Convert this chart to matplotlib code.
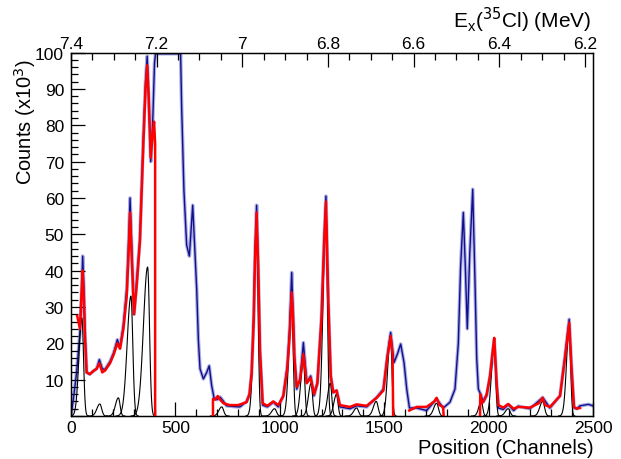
import matplotlib
matplotlib.use('Agg')
import matplotlib.pyplot as plt
import numpy as np
from matplotlib.ticker import MultipleLocator, FuncFormatter

plt.rcParams['font.family'] = ['Liberation Sans', 'DejaVu Sans']

data_ch = [0, 10, 27, 43, 50, 56, 62, 67, 75, 90, 110, 123, 136, 150, 163, 187, 205, 222, 235, 251,
           267, 276, 283, 290, 302, 315, 330, 346, 357, 365, 372, 382, 392, 400, 405, 525, 530, 541,
           554, 567, 583, 594, 602, 610, 618, 634, 650, 662, 674, 686, 700, 714, 728, 745, 780, 809,
           841, 855, 865, 875, 881, 889, 897, 905, 918, 940, 969, 993, 1017, 1036, 1047, 1057, 1064,
           1070, 1081, 1097, 1113, 1129, 1148, 1164, 1180, 1200, 1212, 1221, 1232, 1244, 1256, 1272,
           1288, 1336, 1368, 1416, 1464, 1496, 1515, 1531, 1547, 1563, 1579, 1595, 1608, 1621, 1656,
           1703, 1751, 1783, 1815, 1839, 1855, 1866, 1879, 1888, 1898, 1910, 1924, 1935, 1943, 1951,
           1965, 1974, 1991, 2007, 2027, 2039, 2047, 2070, 2094, 2120, 2142, 2198, 2259, 2294, 2342,
           2366, 2386, 2397, 2409, 2422, 2438, 2478, 2500]
data_cts = [0, 4, 12, 23, 33, 44, 35, 23, 12, 11.5, 12.5, 13, 15.5, 13, 12.8, 15, 17.5, 21, 19, 25,
            35, 48, 60, 48, 28, 37.5, 48.6, 76, 92, 99, 88, 70, 82, 97, 99.7, 99.7, 85, 62,
            47, 44, 58, 45, 35, 21, 13, 10.2, 12, 13.8, 8.3, 4.7, 4.5, 5.2, 4.2, 2.8, 2.6, 2.5,
            4, 6, 12, 27, 44, 58, 40, 18.4, 3, 2.5, 3.8, 2.5, 5.6, 13.8, 24, 39.5, 28,
            16.6, 7.4, 10, 20.2, 9.3, 11, 5.6, 9, 27.5, 48, 60.5, 32, 11, 6.5, 7,
            2.5, 2, 2.8, 2.5, 5.1, 7.4, 16.6, 23, 14.7, 17, 19.8, 14.7, 7.4, 2.2, 2.2,
            1.5, 4.7, 2.2, 3.8, 7.4, 20, 41, 56, 42, 24, 45, 62.4, 36.8, 16, 7.4,
            5.6, 3.8, 5.6, 11, 21, 8.5, 2.2, 1.8, 3.1, 1.5, 2.7, 2, 5.1, 2.2, 5.6,
            16.6, 26.6, 13.8, 2.2, 2, 2.8, 3.2, 2.8]

# total fit, four fit windows
fit1_ch = [30, 43, 50, 56, 62, 67, 75, 90, 110, 123, 136, 150, 163, 187, 205, 222, 235, 251, 267,
           276, 283, 290, 302, 315, 330, 346, 357, 365, 372, 382, 392, 398, 403, 403]
fit1_cts = [27.5, 24, 33, 40, 32, 22, 12, 11.5, 12.5, 13, 14.5, 12, 12.5, 14.5, 17, 20, 18.5, 24, 33,
            45, 56, 45, 28, 36, 48, 74, 90, 96.5, 88, 71, 78, 81, 75, 0]
fit2_ch = [680, 680, 690, 703, 714, 730, 760, 800, 841, 855, 865, 875, 881, 889, 897, 905, 918, 940,
           969, 993, 1017, 1036, 1047, 1057, 1064, 1070, 1081, 1097, 1113, 1129, 1148, 1164, 1180,
           1200, 1212, 1221, 1232, 1244, 1256, 1272, 1288, 1336, 1368, 1416, 1464, 1496, 1515, 1531,
           1540, 1543]
fit2_cts = [0, 4.7, 4.5, 5.5, 4.5, 3.5, 3, 3, 3.8, 6, 11.5, 26, 42, 56, 40, 18, 3.5, 2.8,
            4, 3, 5.5, 13, 22, 34, 27, 16, 8, 10, 17, 9, 10.5, 6, 9,
            27, 47, 59, 32, 11, 6.5, 7, 3, 2.5, 3.2, 2.8, 5, 7, 16, 22,
            17, 0]
fit3_ch = [1620, 1656, 1703, 1740, 1751, 1765, 1782, 1785]
fit3_cts = [1.5, 2.5, 2.5, 4, 5, 3, 2.5, 0]
fit4_ch = [1959, 1960, 1966, 1975, 1991, 2007, 2020, 2027, 2039, 2047, 2070, 2094, 2120, 2142, 2198,
           2240, 2259, 2270, 2294, 2342, 2366, 2386, 2397, 2409, 2422, 2438]
fit4_cts = [0, 6, 3.5, 4, 6, 11, 18, 21.5, 8.5, 3, 2.3, 3.3, 2, 2.5, 2.3,
            3.5, 5, 3, 2.5, 5.5, 16, 25.7, 13, 2.5, 2, 2.2]

# individual peak components: centroid, height, left / right width (channels)
pk_pos = [52, 138, 227, 287, 367, 722, 889, 975, 1057, 1113, 1150, 1221, 1242, 1272, 1368, 1462,
          1530, 1751, 1965, 2027, 2094, 2259, 2386]
pk_hgt = [27, 3.3, 5, 33, 41, 2.5, 53, 2, 32, 15, 9, 57, 9, 6, 2.2, 4,
          22, 3.5, 4, 20, 2, 4, 24]
pk_wl = [14, 14, 14, 18, 20, 14, 13, 14, 13, 13, 13, 13, 13, 13, 14, 14,
         13, 14, 12, 13, 14, 14, 13]
pk_wr = [8, 9, 8, 9, 9, 9, 7, 9, 7, 7, 7, 7, 7, 7, 9, 9,
         7, 9, 7, 7, 9, 9, 7]

fig = plt.figure(figsize=(6.21, 4.60), dpi=100)
ax = fig.add_axes([0.1143, 0.0935, 0.8406, 0.790])

x = np.linspace(0, 2500, 2501)
for p, h, wl, wr in zip(pk_pos, pk_hgt, pk_wl, pk_wr):
    w = np.where(x < p, wl, wr)
    y = h * np.exp(-0.5 * ((x - p) / w) ** 2)
    m = np.abs(x - p) < 4 * w
    ax.plot(x[m], y[m], color='black', lw=0.8, zorder=3)

ax.plot(data_ch, data_cts, color='#8c8cd9', lw=2.6, alpha=0.7, zorder=1)
ax.plot(data_ch, data_cts, color='#10108c', lw=1.0, zorder=2)

for fc, fy in [(fit1_ch, fit1_cts), (fit2_ch, fit2_cts), (fit3_ch, fit3_cts), (fit4_ch, fit4_cts)]:
    ax.plot(fc, fy, color='#ff0000', lw=1.8, zorder=4)

ax.set_xlim(0, 2500)
ax.set_ylim(0, 100)
ax.xaxis.set_major_locator(MultipleLocator(500))
ax.xaxis.set_minor_locator(MultipleLocator(100))
ax.yaxis.set_major_locator(MultipleLocator(10))
ax.yaxis.set_minor_locator(MultipleLocator(2))
ax.yaxis.set_major_formatter(FuncFormatter(lambda v, p: '' if v == 0 else '%g' % v))
ax.tick_params(which='both', direction='in', top=False, right=False, labelsize=12.5, width=0.9)
ax.tick_params(which='major', length=10, pad=5)
ax.tick_params(axis='x', which='major', pad=3)
ax.tick_params(which='minor', length=5)
for s in ax.spines.values():
    s.set_linewidth(1.0)

# excitation energy axis on top
ax2 = ax.twiny()
ax2.set_xlim(7.4, 7.4 - 1.2 * 522 / 514)
ax2.xaxis.set_major_locator(MultipleLocator(0.2))
ax2.xaxis.set_minor_locator(MultipleLocator(0.05))
ax2.xaxis.set_major_formatter(FuncFormatter(lambda v, p: '%g' % round(v, 2)))
ax2.tick_params(which='both', direction='in', labelsize=12.5, width=0.9)
ax2.tick_params(which='major', length=10, pad=1)
ax2.tick_params(which='minor', length=5)

fig.text(594 / 621, 1 - 454 / 460, 'Position (Channels)', fontsize=14.5, ha='right', va='baseline')
fig.text(25 / 621, 1 - 185 / 460, 'Counts (x10$^3$)', fontsize=14.5, rotation=90, ha='center', va='bottom')
fig.text(591 / 621, 1 - 20 / 460, 'E$_{\\mathregular{x}}$($^{35}$Cl) (MeV)', fontsize=15,
         ha='right', va='center')

fig.savefig('out.png', dpi=100)
